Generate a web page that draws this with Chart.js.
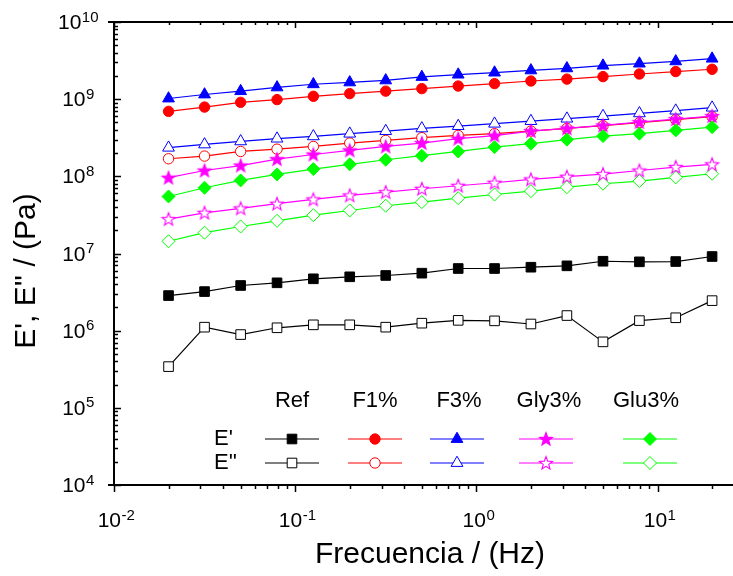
<!DOCTYPE html>
<html>
<head>
<meta charset="utf-8">
<script src="https://cdn.jsdelivr.net/npm/chart.js@4/dist/chart.umd.min.js"></script>
<style>
  html, body { margin: 0; padding: 0; background: #fff; overflow: hidden; }
  canvas { display: block; }
</style>
</head>
<body>
<canvas id="chart" width="760" height="576"></canvas>
<script>
// Frequency sweep (Hz)
const frequency = [0.02, 0.0316, 0.05, 0.0794, 0.126, 0.2, 0.316, 0.5, 0.794, 1.26, 2, 3.16, 5, 7.94, 12.6, 20];

// Sample names and modulus names used in the legend table
const samples = ['Ref', 'F1%', 'F3%', 'Gly3%', 'Glu3%'];
const moduli = ["E'", "E''"];

// Storage modulus E' (Pa)
const refStorage  = [2.85e6, 3.21e6, 3.85e6, 4.17e6, 4.70e6, 4.99e6, 5.19e6, 5.56e6, 6.39e6, 6.39e6, 6.64e6, 6.92e6, 7.94e6, 7.80e6, 7.87e6, 9.14e6];
const f1Storage   = [6.95e8, 7.90e8, 9.10e8, 9.87e8, 1.09e9, 1.18e9, 1.27e9, 1.37e9, 1.48e9, 1.59e9, 1.72e9, 1.82e9, 1.96e9, 2.12e9, 2.28e9, 2.44e9];
const f3Storage   = [1.02e9, 1.15e9, 1.27e9, 1.42e9, 1.56e9, 1.65e9, 1.75e9, 1.94e9, 2.08e9, 2.21e9, 2.36e9, 2.51e9, 2.72e9, 2.89e9, 3.09e9, 3.35e9];
const glyStorage  = [9.6e7, 1.19e8, 1.38e8, 1.67e8, 1.92e8, 2.17e8, 2.44e8, 2.70e8, 3.08e8, 3.37e8, 3.86e8, 4.18e8, 4.57e8, 5.05e8, 5.52e8, 6.04e8];
const gluStorage  = [5.48e7, 7.11e7, 8.85e7, 1.06e8, 1.24e8, 1.43e8, 1.64e8, 1.85e8, 2.10e8, 2.39e8, 2.65e8, 2.99e8, 3.32e8, 3.57e8, 3.94e8, 4.34e8];

// Loss modulus E'' (Pa)
const refLoss = [3.42e5, 1.11e6, 8.9e5, 1.09e6, 1.19e6, 1.19e6, 1.11e6, 1.25e6, 1.36e6, 1.34e6, 1.22e6, 1.57e6, 7.16e5, 1.35e6, 1.47e6, 2.45e6];
const f1Loss  = [1.69e8, 1.83e8, 2.10e8, 2.25e8, 2.44e8, 2.70e8, 2.92e8, 3.17e8, 3.39e8, 3.57e8, 3.86e8, 4.18e8, 4.53e8, 4.96e8, 5.42e8, 5.93e8];
const f3Loss  = [2.35e8, 2.59e8, 2.84e8, 3.08e8, 3.30e8, 3.57e8, 3.86e8, 4.18e8, 4.48e8, 4.81e8, 5.20e8, 5.59e8, 6.04e8, 6.55e8, 7.10e8, 7.76e8];
const glyLoss = [2.79e7, 3.37e7, 3.84e7, 4.42e7, 5.02e7, 5.66e7, 6.24e7, 6.90e7, 7.55e7, 8.26e7, 9.12e7, 9.89e7, 1.07e8, 1.19e8, 1.32e8, 1.43e8];
const gluLoss = [1.44e7, 1.86e7, 2.24e7, 2.65e7, 3.14e7, 3.61e7, 4.16e7, 4.63e7, 5.21e7, 5.82e7, 6.43e7, 7.24e7, 8.02e7, 8.67e7, 9.68e7, 1.08e8];

// Decade exponents labelled on each axis
const xTickExponents = [-2, -1, 0, 1];
const yTickExponents = [4, 5, 6, 7, 8, 9, 10];

const xTitle = 'Frecuencia / (Hz)';
const yTitle = "E', E'' / (Pa)";

const FONT = '"Liberation Sans", Arial, Helvetica, sans-serif';

// Five-pointed star marker rendered to a small canvas
function makeStar(fill, stroke) {
  const c = document.createElement('canvas');
  c.width = 18; c.height = 18;
  const g = c.getContext('2d');
  const cx = 9, cy = 9.5, R = 6.9, r = 2.9;
  g.beginPath();
  for (let i = 0; i < 10; i++) {
    const rad = (i % 2 === 0) ? R : r;
    const a = -Math.PI / 2 + i * Math.PI / 5;
    const px = cx + rad * Math.cos(a), py = cy + rad * Math.sin(a);
    if (i === 0) g.moveTo(px, py); else g.lineTo(px, py);
  }
  g.closePath();
  g.fillStyle = fill; g.fill();
  g.lineWidth = 1.1; g.strokeStyle = stroke; g.stroke();
  return c;
}

const MAGENTA = '#FF00FF';
const seriesStyle = {
  'Ref':   { color: '#000000', shape: 'rect',     radius: 6.8 },
  'F1%':   { color: '#FF0000', shape: 'circle',   radius: 5.2 },
  'F3%':   { color: '#0000FF', shape: 'triangle', radius: 6.8 },
  'Gly3%': { color: MAGENTA,   shape: 'star',     radius: 6.9 },
  'Glu3%': { color: '#00FF00', shape: 'rectRot',  radius: 6.5 }
};
const starFilled = makeStar(MAGENTA, MAGENTA);
const starOpen = makeStar('#FFFFFF', MAGENTA);

function makeSet(sample, modulus, values, order) {
  const st = seriesStyle[sample];
  const filled = modulus === "E'";
  let pointStyle = st.shape;
  if (st.shape === 'star') pointStyle = filled ? starFilled : starOpen;
  return {
    label: sample + ' ' + modulus,
    data: frequency.map((f, i) => ({ x: f, y: values[i] })),
    borderColor: st.color,
    backgroundColor: filled ? st.color : '#FFFFFF',
    borderWidth: 1.2,
    pointStyle: pointStyle,
    pointRadius: st.radius,
    pointBorderWidth: 1,
    pointBorderColor: st.color,
    pointBackgroundColor: filled ? st.color : '#FFFFFF',
    tension: 0,
    fill: false,
    order: order
  };
}

const datasets = [
  makeSet('Ref', "E'", refStorage, 2),
  makeSet('Ref', "E''", refLoss, 2),
  makeSet('F1%', "E'", f1Storage, 2),
  makeSet('F1%', "E''", f1Loss, 2),
  makeSet('F3%', "E'", f3Storage, 1),
  makeSet('F3%', "E''", f3Loss, 1),
  makeSet('Gly3%', "E'", glyStorage, 0),
  makeSet('Gly3%', "E''", glyLoss, 0),
  makeSet('Glu3%', "E'", gluStorage, 1),
  makeSet('Glu3%', "E''", gluLoss, 1)
];

// "10" with a raised exponent, centred on cx
function drawPower(ctx, exp, cx, baseY) {
  const base = '10', sup = String(exp);
  const baseFont = '21px ' + FONT, supFont = '15px ' + FONT;
  ctx.font = baseFont;
  const wb = ctx.measureText(base).width;
  ctx.font = supFont;
  const ws = ctx.measureText(sup).width;
  const x0 = cx - (wb + ws) / 2;
  ctx.textAlign = 'left';
  ctx.textBaseline = 'alphabetic';
  ctx.font = baseFont;
  ctx.fillText(base, x0, baseY);
  ctx.font = supFont;
  ctx.fillText(sup, x0 + wb + 0.5, baseY - 7.5);
}

function logTicks(min, max) {
  const out = [];
  for (let d = Math.floor(Math.log10(min)); d <= Math.ceil(Math.log10(max)); d++) {
    for (let m = 1; m <= 9; m++) {
      const v = m * Math.pow(10, d);
      if (v >= min * 0.999 && v <= max * 1.001) out.push({ v, major: m === 1 });
    }
  }
  return out;
}

// Axis box, log tick marks, tick labels and axis titles
const axisFrame = {
  id: 'axisFrame',
  beforeDatasetsDraw(chart) {
    const { ctx, chartArea: a, scales: { x, y } } = chart;
    ctx.save();
    ctx.strokeStyle = '#000';
    ctx.lineWidth = 2;
    ctx.beginPath();
    ctx.moveTo(a.left - 6, a.top); ctx.lineTo(a.right, a.top);
    ctx.moveTo(a.left - 6, a.bottom); ctx.lineTo(a.right, a.bottom);
    ctx.moveTo(a.left, a.top - 1); ctx.lineTo(a.left, a.bottom + 1);
    ctx.moveTo(a.right, a.top - 1); ctx.lineTo(a.right, a.bottom + 1);
    ctx.stroke();

    ctx.lineWidth = 1.5;
    ctx.beginPath();
    // x ticks: outward at the bottom, inward at the top
    for (const t of logTicks(x.min, x.max)) {
      const px = Math.round(x.getPixelForValue(t.v)) + 0.5;
      const len = t.major ? 7 : 4;
      ctx.moveTo(px, a.bottom); ctx.lineTo(px, a.bottom + len);
      ctx.moveTo(px, a.top); ctx.lineTo(px, a.top + (t.major ? 6 : 3));
    }
    // y ticks: inward on the left axis
    for (const t of logTicks(y.min, y.max)) {
      const py = Math.round(y.getPixelForValue(t.v)) + 0.5;
      const len = t.major ? 7 : 4;
      ctx.moveTo(a.left, py); ctx.lineTo(a.left + len, py);
    }
    ctx.stroke();

    ctx.fillStyle = '#000';
    for (const e of xTickExponents) {
      drawPower(ctx, e, x.getPixelForValue(Math.pow(10, e)) + 2, a.bottom + 42);
    }
    for (const e of yTickExponents) {
      drawPower(ctx, e, 78, y.getPixelForValue(Math.pow(10, e)) + 7);
    }

    ctx.font = '30px ' + FONT;
    ctx.textAlign = 'center';
    ctx.textBaseline = 'alphabetic';
    ctx.fillText(xTitle, 430, 563);
    ctx.save();
    ctx.translate(35, 271);
    ctx.rotate(-Math.PI / 2);
    ctx.fillText(yTitle, 0, 0);
    ctx.restore();
    ctx.restore();
  }
};

// Legend table: sample names across, E' / E'' rows down
function drawMarker(ctx, ds, px, py) {
  ctx.save();
  ctx.fillStyle = ds.pointBackgroundColor;
  ctx.strokeStyle = ds.pointBorderColor;
  ctx.lineWidth = ds.pointBorderWidth;
  const opts = { pointStyle: ds.pointStyle, radius: ds.pointRadius, rotation: 0, borderWidth: ds.pointBorderWidth };
  if (Chart.helpers && Chart.helpers.drawPoint) {
    Chart.helpers.drawPoint(ctx, opts, px, py);
  } else if (ds.pointStyle instanceof HTMLCanvasElement) {
    ctx.drawImage(ds.pointStyle, px - ds.pointStyle.width / 2, py - ds.pointStyle.height / 2);
  } else {
    ctx.beginPath(); ctx.arc(px, py, ds.pointRadius, 0, Math.PI * 2); ctx.fill(); ctx.stroke();
  }
  ctx.restore();
}

const tableLegend = {
  id: 'tableLegend',
  afterDatasetsDraw(chart) {
    const ctx = chart.ctx;
    const colX = [292, 375, 457, 546, 650];
    const headX = [292, 375, 459, 549, 646];
    const headY = 401, rowY = [439, 463], rowLabelX = 214, half = 27;
    ctx.save();
    ctx.fillStyle = '#000';
    ctx.font = '22px ' + FONT;
    ctx.textBaseline = 'middle';
    ctx.textAlign = 'center';
    samples.forEach((s, i) => ctx.fillText(s, headX[i], headY));
    ctx.textAlign = 'left';
    moduli.forEach((m, j) => ctx.fillText(m, rowLabelX, rowY[j]));
    samples.forEach((s, i) => {
      moduli.forEach((m, j) => {
        const ds = chart.data.datasets[i * 2 + j];
        ctx.strokeStyle = ds.borderColor;
        ctx.lineWidth = ds.borderWidth;
        ctx.beginPath();
        ctx.moveTo(colX[i] - half, rowY[j]);
        ctx.lineTo(colX[i] + half, rowY[j]);
        ctx.stroke();
        drawMarker(ctx, ds, colX[i], rowY[j]);
      });
    });
    ctx.restore();
  }
};

new Chart(document.getElementById('chart'), {
  type: 'line',
  data: { datasets },
  options: {
    responsive: false,
    devicePixelRatio: 1,
    animation: false,
    events: [],
    layout: { padding: { left: 114, top: 22, right: 16, bottom: 91 } },
    plugins: { legend: { display: false }, tooltip: { enabled: false } },
    scales: {
      x: { type: 'logarithmic', min: 0.01, max: 30, display: false },
      y: { type: 'logarithmic', min: 1e4, max: 1e10, display: false }
    }
  },
  plugins: [axisFrame, tableLegend]
});
</script>
</body>
</html>
